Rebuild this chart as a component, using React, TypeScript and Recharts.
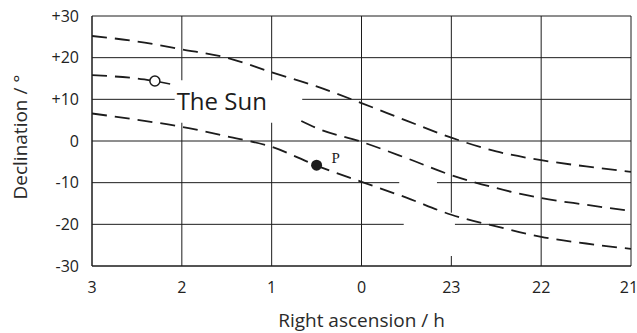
import React from "react";
import { ComposedChart, Line, Scatter, XAxis, YAxis, CartesianGrid, ReferenceArea } from "recharts";

// right ascension in hours, declination in degrees
const raTicks = [3, 2, 1, 0, 23, 22, 21];
const decTicks = [30, 20, 10, 0, -10, -20, -30];

const raHours = [3, 2.5, 2, 1.5, 1, 0.5, 0, 23.5, 23, 22.5, 22, 21.5, 21];
const upperDec = [25.2, 23.9, 22.0, 20.0, 16.5, 13.1, 9.1, 4.9, 0.8, -2.5, -4.6, -6.1, -7.4];
const lowerDec = [6.6, 5.1, 3.4, 1.1, -1.4, -5.9, -9.8, -13.6, -17.7, -20.5, -23.0, -24.6, -25.9];

const sunWestRa = [3, 2.5, 2.3];
const sunWestDec = [15.8, 15.0, 14.4];
const sunStubRa = [2.3, 2.13];
const sunStubDec = [14.4, 13.7];
const sunEastRa = [0.67, 0.5, 0, 23.5, 23, 22.5, 22, 21.5, 21];
const sunEastDec = [4.8, 3.1, -0.2, -4.1, -8.2, -11.3, -13.7, -15.3, -16.8];

const sunRa = [2.3];
const sunDec = [14.4];
const pointRa = [0.5];
const pointDec = [-5.8];

const toAxis = (h: number) => (h > 12 ? h - 24 : h);
const fromAxis = (v: number) => (v < 0 ? v + 24 : v);
const pts = (ra: number[], dec: number[]) => ra.map((h, i) => ({ x: toAxis(h), y: dec[i] }));

const INK = "#1c1c1c";
const FONT = "'Open Sans', 'Noto Sans', sans-serif";
const dashProps = {
  type: "monotone" as const,
  dataKey: "y",
  stroke: INK,
  strokeWidth: 1.8,
  strokeDasharray: "15 8",
  dot: false,
  activeDot: false,
  isAnimationActive: false,
};

const SunText = (props: any) => {
  const vb = props.viewBox;
  return (
    <text x={vb.x + 2} y={vb.y + 30} fill={INK} fontSize={24} fontFamily={FONT}>
      The Sun
    </text>
  );
};

const YTitle = (props: any) => {
  const vb = props.viewBox;
  const x = vb.x - 10;
  const y = vb.y + vb.height / 2 - 4;
  return (
    <text x={x} y={y} transform={`rotate(-90 ${x} ${y})`} textAnchor="middle" dominantBaseline="central"
      fill="#2a2a2a" fontSize={19} fontFamily={FONT}>
      Declination / °
    </text>
  );
};

const XTitle = (props: any) => {
  const vb = props.viewBox;
  return (
    <text x={vb.x + vb.width / 2} y={vb.y + 61} textAnchor="middle" fill="#2a2a2a" fontSize={19} fontFamily={FONT}>
      Right ascension / h
    </text>
  );
};

const HollowDot = (p: any) => <circle cx={p.cx} cy={p.cy} r={5} fill="#fff" stroke={INK} strokeWidth={1.5} />;
const FilledDot = (p: any) => (
  <g>
    <circle cx={p.cx} cy={p.cy} r={5.5} fill={INK} />
    <text x={p.cx + 15} y={p.cy - 2} fill={INK} fontSize={15} fontFamily="'Liberation Serif', 'DejaVu Serif', serif">
      P
    </text>
  </g>
);

export default function App() {
  const tick = { fill: "#222", fontSize: 16, fontFamily: FONT };
  return (
    <div style={{ position: "absolute", left: 0, top: 0, background: "#fff" }}>
      <ComposedChart width={637} height={333} margin={{ top: 16, right: 6, bottom: 27, left: 30 }}>
        <CartesianGrid stroke={INK} strokeWidth={1} />
        <XAxis
          type="number"
          dataKey="x"
          domain={[-3, 3]}
          reversed
          ticks={raTicks.map(toAxis)}
          tickFormatter={(v: number) => String(fromAxis(v))}
          tick={tick}
          tickLine={false}
          tickSize={6}
          tickMargin={10}
          axisLine={{ stroke: INK }}
          height={40}
          allowDataOverflow
          label={<XTitle />}
        />
        <YAxis
          type="number"
          dataKey="y"
          domain={[-30, 30]}
          ticks={decTicks}
          tickFormatter={(v: number) => (v > 0 ? `+${v}` : String(v))}
          tick={tick}
          tickLine={false}
          tickSize={6}
          tickMargin={7}
          axisLine={{ stroke: INK }}
          width={62}
          allowDataOverflow
          label={<YTitle />}
        />
        {/* white patches where the printed grid is broken */}
        <ReferenceArea x1={2.08} x2={0.66} y1={4.4} y2={14.6} fill="#fff" fillOpacity={1} stroke="none" label={<SunText />} />
        <ReferenceArea x1={-0.42} x2={-0.84} y1={-9.2} y2={-10.8} fill="#fff" fillOpacity={1} stroke="none" />
        <ReferenceArea x1={-0.47} x2={-1.0} y1={-19.2} y2={-20.8} fill="#fff" fillOpacity={1} stroke="none" />
        <ReferenceArea x1={-0.96} x2={-1.04} y1={-17.2} y2={-27.6} fill="#fff" fillOpacity={1} stroke="none" />
        <Line {...dashProps} data={pts(raHours, upperDec)} />
        <Line {...dashProps} data={pts(raHours, lowerDec)} />
        <Line {...dashProps} data={pts(sunWestRa, sunWestDec)} />
        <Line {...dashProps} data={pts(sunEastRa, sunEastDec)} />
        <Line {...dashProps} strokeDasharray={undefined} strokeWidth={1.5} type="linear" data={pts(sunStubRa, sunStubDec)} />
        <Scatter data={pts(sunRa, sunDec)} dataKey="y" shape={HollowDot} isAnimationActive={false} />
        <Scatter data={pts(pointRa, pointDec)} dataKey="y" shape={FilledDot} isAnimationActive={false} />
      </ComposedChart>
    </div>
  );
}
